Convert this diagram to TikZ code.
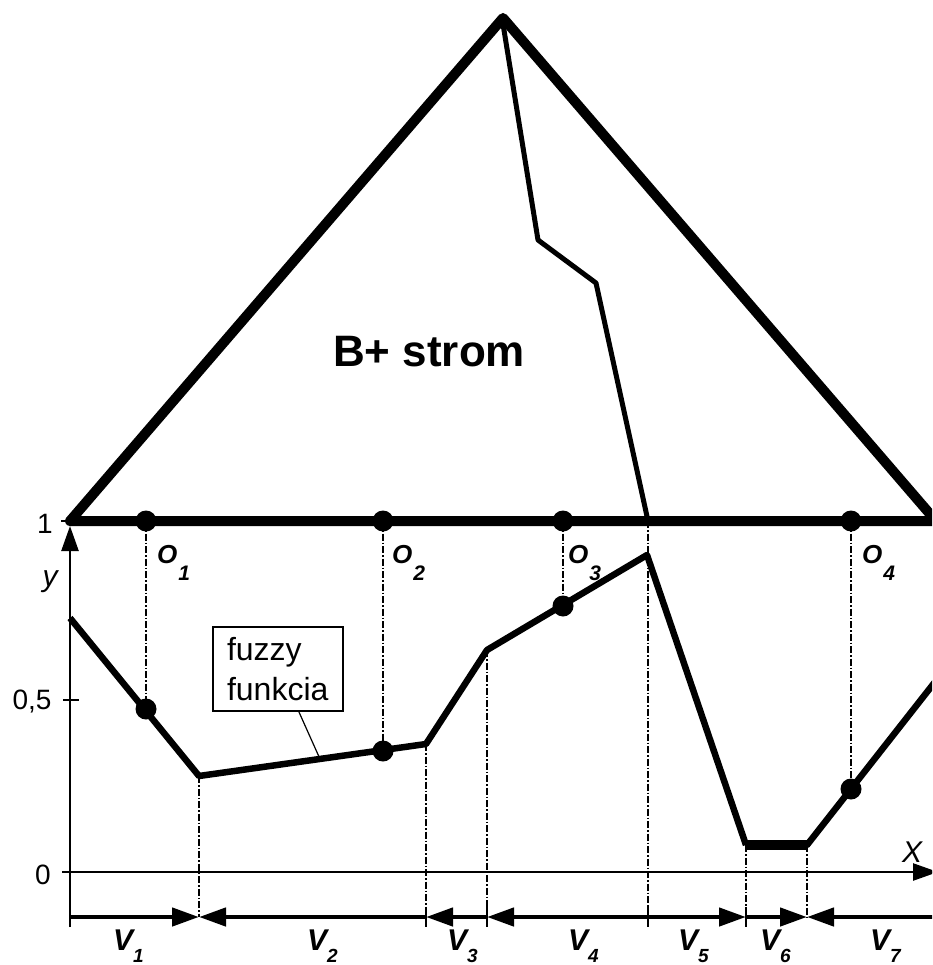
\documentclass[tikz,border=0pt]{standalone}
\usepackage{fontspec}
\setmainfont{Liberation Sans}
\usetikzlibrary{arrows.meta}
\tikzset{
  treeline/.style={line width=10pt, line join=round, line cap=round},
  pathline/.style={line width=5pt, line join=round},
  funline/.style={line width=6.5pt, line join=round},
  axisline/.style={line width=2.5pt},
  guide/.style={line width=1.2pt, dash pattern=on 7pt off 2pt on 1.5pt off 2pt},
  dotmark/.style={circle, fill=black, inner sep=0pt, minimum size=21pt},
  olabel/.style={anchor=base west, inner sep=0pt, font=\fontsize{26}{26}\selectfont\bfseries\itshape},
  vlabel/.style={anchor=base west, inner sep=0pt, font=\fontsize{30}{30}\selectfont\bfseries\itshape},
  numlabel/.style={inner sep=0pt, font=\fontsize{28}{28}\selectfont},
  intline/.style={line width=4.5pt},
  bigtip/.style={-{Triangle[length=27pt,width=18pt]}},
  ticky/.style={line width=2pt}
}
\newcommand{\osub}[1]{\kern1pt\raisebox{-17pt}{\fontsize{21}{21}\selectfont #1}}
\newcommand{\vsub}[1]{\kern0pt\raisebox{-12pt}{\fontsize{19}{19}\selectfont #1}}
\begin{document}
\begin{tikzpicture}[x=1pt,y=-1pt]
\clip (0,0) rectangle (932,965);
\fill[white] (0,0) rectangle (932,965);
% coordinates
\coordinate (A) at (503,18);
\coordinate (L) at (70,521);
\coordinate (R) at (936,521);
\coordinate (i0) at (503,24);
\coordinate (i1) at (538,240);
\coordinate (i2) at (596,283);
\coordinate (i3) at (648,521);
\coordinate (o1b) at (146,521);
\coordinate (o2b) at (383,521);
\coordinate (o3b) at (563,521);
\coordinate (o4b) at (851,521);
\coordinate (f0) at (70,618);
\coordinate (f1) at (146,709);
\coordinate (f2) at (199,776);
\coordinate (fo2) at (383,751);
\coordinate (f3) at (426,744);
\coordinate (f4) at (487,650);
\coordinate (f5) at (563,606);
\coordinate (f6) at (647,555);
\coordinate (f7) at (746,845);
\coordinate (f8) at (807,845);
\coordinate (f9) at (851,789);
\coordinate (f10) at (960,650);
\coordinate (lp) at (320,759);
% guides
\draw[guide] (o1b) -- (f1);
\draw[guide] (o2b) -- (fo2);
\draw[guide] (o3b) -- (f5);
\draw[guide] (o4b) -- (f9);
\draw[guide] (f2) -- (199,917);
\draw[guide] (f3) -- (426,917);
\draw[guide] (f4) -- (487,917);
\draw[guide] (i3) -- (648,917);
\draw[guide] (f7) -- (746,917);
\draw[guide] (f8) -- (807,917);
% axes
\draw[axisline] (70,927) -- (70,540);
\draw[axisline, -{Triangle[length=25pt,width=17pt]}] (70,560) -- (70,526);
\draw[axisline, -{Triangle[length=25pt,width=17pt]}] (62,872) -- (938,872);
\draw[axisline] (61,521) -- (70,521);
\draw[axisline] (63,700) -- (79,700);
% tree
\draw[treeline] (L) -- (A) -- (R) -- cycle;
\draw[pathline] (i0) -- (i1) -- (i2) -- (i3);
% function
\draw[funline] (f0) -- (f2) -- (f3) -- (f4) -- (f6) -- (f7);
\draw[line width=10pt] (f7) -- (f8);
\draw[funline] (f7) -- (f8) -- (f10);
% dots
\node[dotmark] (d1) at (o1b) {};
\node[dotmark] (d2) at (o2b) {};
\node[dotmark] (d3) at (o3b) {};
\node[dotmark] (d4) at (o4b) {};
\node[dotmark] (e1) at (f1) {};
\node[dotmark] (e2) at (fo2) {};
\node[dotmark] (e3) at (f5) {};
\node[dotmark] (e4) at (f9) {};
% interval arrows
\draw[intline, bigtip] (70,917) -- (199,917);
\draw[intline, bigtip] (426,917) -- (199,917);
\draw[intline, bigtip] (487,917) -- (426,917);
\draw[intline, bigtip] (648,917) -- (487,917);
\draw[intline, bigtip] (648,917) -- (746,917);
\draw[intline, bigtip] (746,917) -- (807,917);
\draw[intline, bigtip] (945,917) -- (807,917);
\foreach \t in {70,426,487,648,746} \draw[ticky] (\t,907) -- (\t,927);
% labels
\node[anchor=base west, inner sep=0pt, font=\fontsize{44}{44}\selectfont\bfseries] (title) at (333,366) {B+ strom};
\node[olabel] (lo1) at (157,563) {O\osub{1}};
\node[olabel] (lo2) at (392,563) {O\osub{2}};
\node[olabel] (lo3) at (568,563) {O\osub{3}};
\node[olabel] (lo4) at (862,563) {O\osub{4}};
\node[vlabel] (lv1) at (113,950) {V\vsub{1}};
\node[vlabel] (lv2) at (307,950) {V\vsub{2}};
\node[vlabel] (lv3) at (447,950) {V\vsub{3}};
\node[vlabel] (lv4) at (568,950) {V\vsub{4}};
\node[vlabel] (lv5) at (678,950) {V\vsub{5}};
\node[vlabel] (lv6) at (760,950) {V\vsub{6}};
\node[vlabel] (lv7) at (870,950) {V\vsub{7}};
\node[numlabel] (n1) at (45,524) {1};
\node[numlabel] (n05) at (32,702) {0,5};
\node[numlabel] (n0) at (43,875) {0};
\node[anchor=base, inner sep=0pt, font=\fontsize{30}{30}\selectfont\itshape] (ly) at (50,586) {y};
\node[anchor=base, inner sep=0pt, font=\fontsize{30}{30}\selectfont\itshape] (lx) at (912,862) {X};
% fuzzy box
\node[draw, line width=1.5pt, anchor=north west, align=left, inner xsep=8pt, inner ysep=8pt,
      minimum width=130pt, minimum height=84pt, font=\fontsize{32}{40}\selectfont] (fbox) at (212,626) {fuzzy\\funkcia};
\draw[line width=1.2pt] ([xshift=21pt]fbox.south) -- (lp);
\end{tikzpicture}
\end{document}
